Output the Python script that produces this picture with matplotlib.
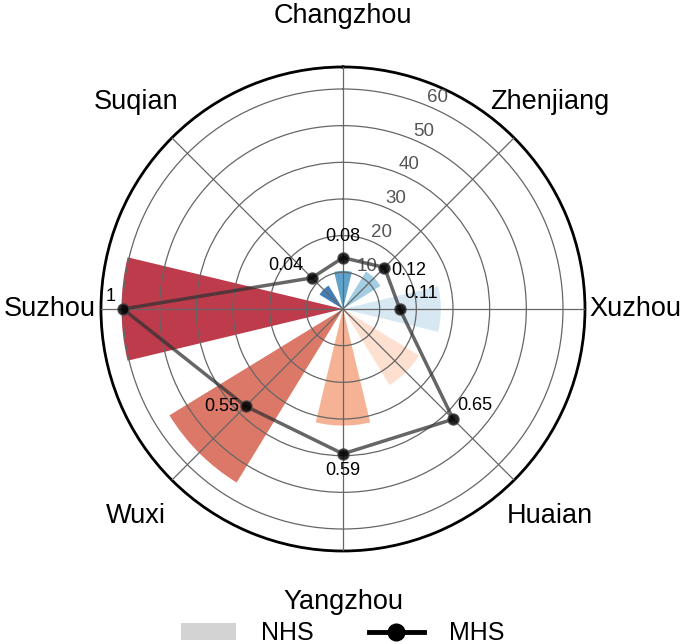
import numpy as np
import matplotlib.pyplot as plt
from matplotlib.patches import Patch
from matplotlib.lines import Line2D

plt.rcParams['font.family'] = ['Liberation Sans', 'DejaVu Sans']

# --- data (clockwise from top) ---
cities = ["Changzhou", "Zhenjiang", "Xuzhou", "Huaian", "Yangzhou", "Wuxi", "Suzhou", "Suqian"]
nhs = [10.4, 12.0, 26.7, 24.3, 31.8, 55.5, 60.4, 7.5]
mhs = [0.08, 0.12, 0.11, 0.65, 0.59, 0.55, 1.0, 0.04]
mhs_labels = ["0.08", "0.12", "0.11", "0.65", "0.59", "0.55", "1", "0.04"]
bar_colors = ["#4393c3", "#92c5de", "#d1e5f0", "#fddbc7", "#f4a582", "#d6604d", "#b2182b", "#2166ac"]
r_ticks = [10, 20, 30, 40, 50, 60]

# MHS is drawn on the same radial axis: r = 10 + 50 * mhs
mhs_r = [10 + 50 * v for v in mhs]

n = len(cities)
theta = np.arange(n) * 2 * np.pi / n
width = 0.6 * 2 * np.pi / n

fig = plt.figure(figsize=(6.85, 6.44), dpi=100)
ax = fig.add_axes([0.1474, 0.1444, 0.7066, 0.7516], projection='polar')
ax.set_theta_zero_location('N')
ax.set_theta_direction(-1)
ax.set_ylim(0, 66)

ax.bar(theta, nhs, width=width, color=bar_colors, alpha=0.85, zorder=2, linewidth=0)

# closed line for MHS
th_c = np.append(theta, theta[0])
r_c = np.append(mhs_r, mhs_r[0])
ax.plot(th_c, r_c, color='#333333', alpha=0.75, linewidth=2.5, zorder=4)
ax.plot(theta, mhs_r, 'o', color='black', markersize=8, markeredgecolor='#444444',
        alpha=0.85, zorder=5)

# value labels
offsets = [(0, 9, 'center', 'bottom'), (5, -2, 'left', 'center'), (3, 5, 'left', 'bottom'),
           (3, 4, 'left', 'bottom'), (0, -6, 'center', 'top'), (-5, 0, 'right', 'center'),
           (-5, 3, 'right', 'bottom'), (-6, 3, 'right', 'bottom')]
for th, r, lab, (dx, dy, ha, va) in zip(theta, mhs_r, mhs_labels, offsets):
    ax.annotate(lab, (th, r), xytext=(dx, dy), textcoords='offset points',
                ha=ha, va=va, fontsize=13, color='black', zorder=6)

# grid and ticks
ax.set_xticks(theta)
ax.set_xticklabels([])
ax.set_yticks(r_ticks)
ax.set_yticklabels([str(t) for t in r_ticks], fontsize=13.5, color='#555555')
ax.set_rlabel_position(22.5)
ax.grid(True, color='#666666', linewidth=0.9, zorder=3)
ax.set_axisbelow(False)
ax.spines['polar'].set_linewidth(2)
ax.spines['polar'].set_color('black')

for th, name in zip(theta, cities):
    ax.text(th, 66 * 1.21, name, ha='center', va='center', fontsize=19.5, clip_on=False)

handles = [Patch(facecolor='#d3d3d3', edgecolor='none', label='NHS'),
           Line2D([0], [0], color='black', linewidth=3.5, marker='o', markersize=12, label='MHS')]
fig.legend(handles=handles, loc='lower center', bbox_to_anchor=(0.5, -0.037), ncol=2,
           frameon=False, fontsize=18, handlelength=2.2, columnspacing=2.2, handletextpad=1.0)

plt.savefig('out.png', dpi=100)
